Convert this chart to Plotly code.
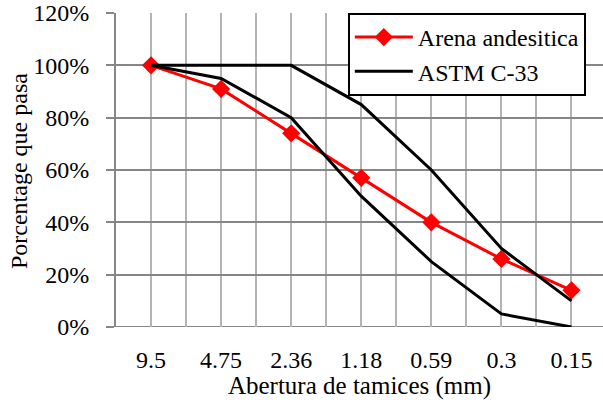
import plotly.graph_objects as go

categories = ["9.5", "4.75", "2.36", "1.18", "0.59", "0.3", "0.15"]
arena = [1.00, 0.91, 0.74, 0.57, 0.40, 0.26, 0.14]
astm_upper = [1.00, 1.00, 1.00, 0.85, 0.60, 0.30, 0.10]
astm_lower = [1.00, 0.95, 0.80, 0.50, 0.25, 0.05, 0.00]
y_ticks = [0, 0.2, 0.4, 0.6, 0.8, 1.0, 1.2]

idx = list(range(len(categories)))
FONT = "Liberation Serif"

fig = go.Figure()
fig.add_trace(go.Scatter(
    x=idx, y=arena, name="Arena andesitica", mode="lines+markers",
    line=dict(color="#ff0000", width=3),
    marker=dict(symbol="diamond", size=14, color="#ff0000"),
))
fig.add_trace(go.Scatter(
    x=idx + [None] + idx, y=astm_upper + [None] + astm_lower,
    name="ASTM C-33", mode="lines",
    line=dict(color="#000000", width=3),
))

tickvals = []
ticktext = []
for i, c in enumerate(categories):
    tickvals += [i - 0.5, i]
    ticktext += ["", c]
tickvals.append(len(categories) - 0.5)
ticktext.append("")

fig.update_layout(
    width=603, height=400,
    margin=dict(l=116, r=0, t=13, b=73),
    paper_bgcolor="white", plot_bgcolor="white",
    font=dict(family=FONT, size=24, color="black"),
    showlegend=True,
    legend=dict(
        x=0.476, y=1.0, xanchor="left", yanchor="top",
        bordercolor="black", borderwidth=2, bgcolor="white",
        font=dict(family=FONT, size=24),
        tracegroupgap=0, itemwidth=58,
    ),
    xaxis=dict(
        range=[-0.5, 6.45], tickmode="array", tickvals=tickvals, ticktext=ticktext,
        showgrid=True, gridcolor="#b4b4b4", gridwidth=2,
        showline=False, zeroline=False, ticks="", ticklabelstandoff=16,
        automargin=False,
        title=dict(text="Abertura de tamices (mm)", standoff=0, font=dict(size=25)),
    ),
    yaxis=dict(
        range=[0, 1.2], tickvals=y_ticks, tickformat=".0%",
        showgrid=True, gridcolor="#868686", gridwidth=2,
        showline=True, linecolor="#868686", linewidth=2,
        ticks="outside", ticklen=8, tickcolor="#868686", tickwidth=2,
        ticklabelstandoff=12, zeroline=False, automargin=False,
    ),
)
fig.add_annotation(
    text="Porcentage que pasa", textangle=-90,
    xref="paper", yref="paper", x=-0.199, y=0.497,
    xanchor="center", yanchor="middle", showarrow=False,
    font=dict(family=FONT, size=24, color="black"),
)
fig.add_shape(type="line", xref="paper", yref="y", x0=-0.017, x1=1, y0=0, y1=0,
              line=dict(color="#868686", width=2), layer="below")

fig.write_html(
    "out.html",
    config={"displayModeBar": False},
    post_script="document.body.style.margin='0';document.body.style.overflow='hidden';",
)
